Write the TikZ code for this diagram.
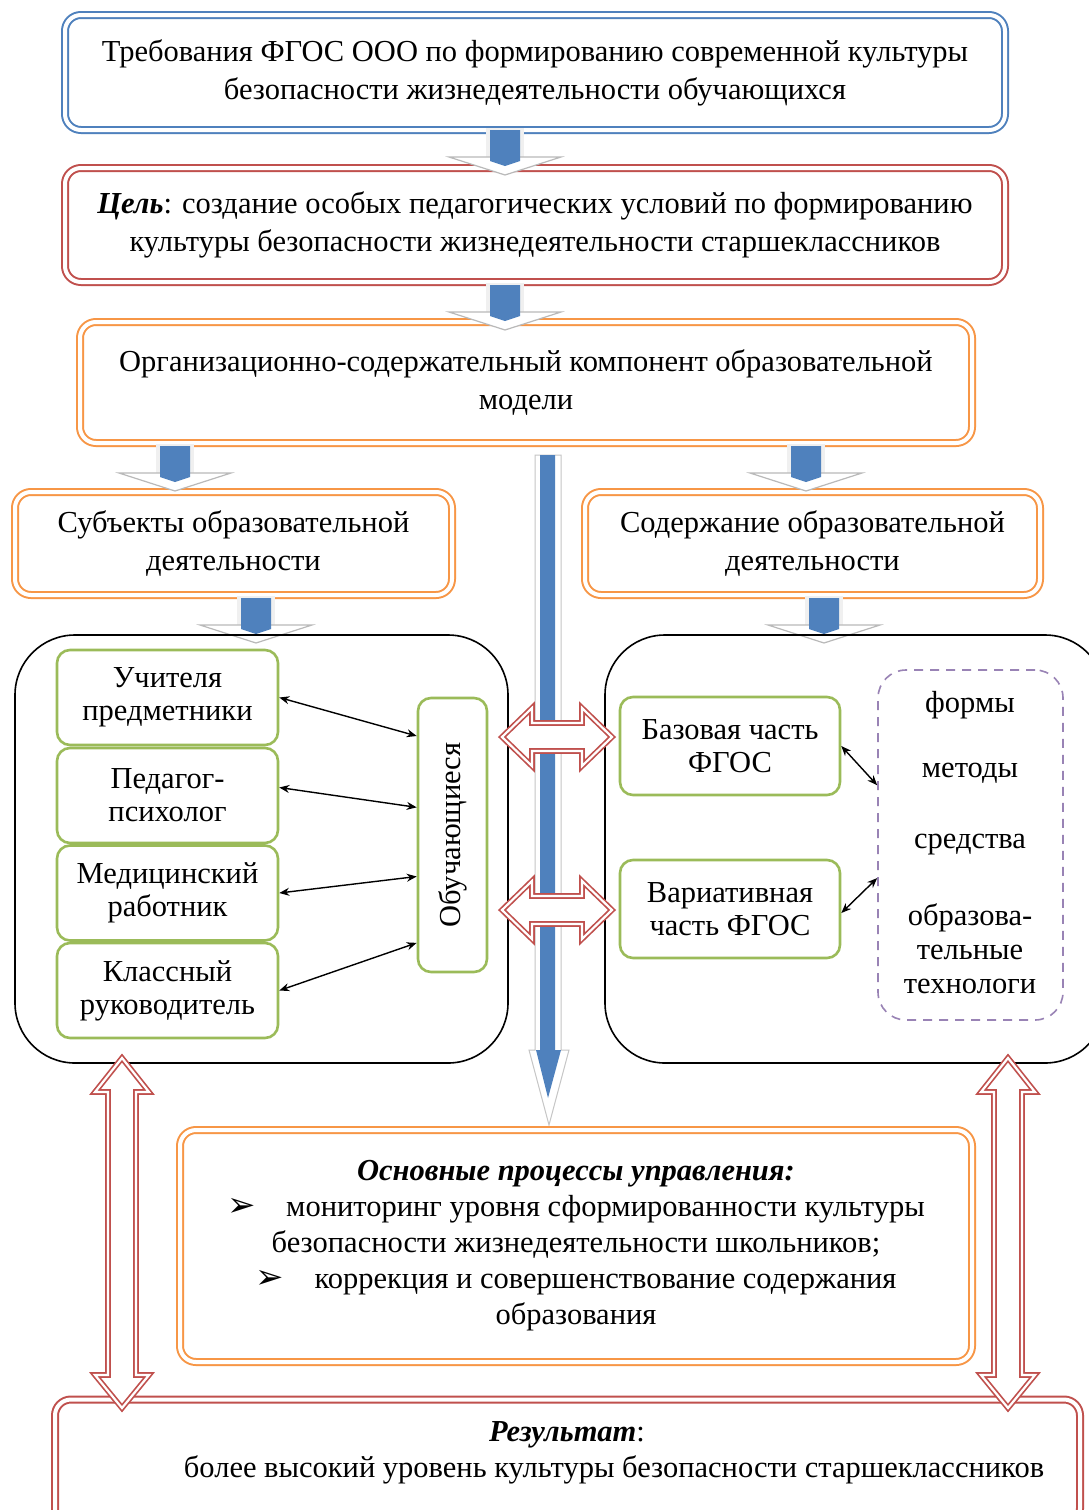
\documentclass[tikz,border=0pt]{standalone}
\usepackage{fontspec}
\setmainfont{Liberation Serif}
\newfontfamily\ser{Liberation Serif}
\newfontfamily\dvs{DejaVu Sans}
\usetikzlibrary{arrows.meta,calc}
\definecolor{cblue}{HTML}{4F81BD}
\definecolor{cred}{HTML}{C0504D}
\definecolor{corange}{HTML}{F79646}
\definecolor{cgreen}{HTML}{9BBB59}
\definecolor{cpurple}{HTML}{8064A2}
\tikzset{
  every node/.style={font=\ser\fontsize{30.5}{38}\selectfont, inner sep=0},
  dbox/.style={draw=#1, line width=2, double=white, double distance=4, rounded corners=16, fill=white, align=center},
  panel/.style={draw=black, line width=1.6, rounded corners=60},
  gbox/.style={draw=cgreen, line width=2.6, rounded corners=13, fill=white, align=center, font=\ser\fontsize{30.5}{33}\selectfont},
  redarr/.style={draw=cred, line width=1.7, double=white, double distance=2.2, fill=white, line join=miter},
  link/.style={{Stealth[length=10pt,width=8pt]}-{Stealth[length=10pt,width=8pt]}, line width=1.4, black},
  blkarrow/.pic={
    \fill[gray!12] (-19,0) rectangle (19,36);
    \filldraw[fill=white, draw=gray!55, line width=1.2] (-56,29) -- (56,29) -- (0,47) -- cycle;
    \fill[cblue] (-15,2) -- (15,2) -- (15,33) -- (0,38) -- (-15,33) -- cycle;
  }
}
\begin{document}
\begin{tikzpicture}[x=1pt,y=-1pt]
\useasboundingbox (0,0) rectangle (1089,1510);
\clip (0,0) rectangle (1089,1510);
\fill[white] (0,0) rectangle (1089,1510);

% top boxes
\node[dbox=cblue, minimum width=940, minimum height=115] (b1) at (535,72.5)
  {Требования ФГОС ООО по формированию современной культуры\\безопасности жизнедеятельности обучающихся};
\node[dbox=cred, minimum width=940, minimum height=114] (b2) at (535,225)
  {\textbf{\textit{Цель}}: создание особых педагогических условий по формированию\\культуры безопасности жизнедеятельности старшеклассников};
\node[dbox=corange, minimum width=892, minimum height=121] (b3) at (526,382.5)
  {Организационно-содержательный компонент образовательной\\модели};
\node[dbox=corange, minimum width=437, minimum height=103] (subj) at (233.5,543.5)
  {Субъекты образовательной\\деятельности};
\node[dbox=corange, minimum width=455, minimum height=103] (cont) at (812.5,543.5)
  {Содержание образовательной\\деятельности};

% block arrows
\pic at (505,128) {blkarrow};
\pic at (505,283) {blkarrow};
\pic at (175,444) {blkarrow};
\pic at (806,444) {blkarrow};
\pic at (256,596) {blkarrow};
\pic at (824,596) {blkarrow};

% panels
\node[panel, minimum width=493, minimum height=428] (lp) at (261.5,849) {};
\node[panel, minimum width=500, minimum height=428] (rp) at (855,849) {};

% central arrow
\filldraw[fill=white, draw=gray!45, line width=1] (535,455) -- (561,455) -- (561,1050) -- (569,1050) -- (549,1125) -- (529,1050) -- (535,1050) -- cycle;
\fill[cblue] (540,455) -- (555,455) -- (555,1050) -- (561,1050) -- (548,1098) -- (536,1050) -- (540,1050) -- cycle;

% left green boxes
\node[gbox, minimum width=221, minimum height=95] (u1) at (167.5,697.5) {Учителя\\предметники};
\node[gbox, minimum width=221, minimum height=95] (u2) at (167.5,795.5) {Педагог-\\психолог};
\node[gbox, minimum width=221, minimum height=95] (u3) at (167.5,893) {Медицинский\\работник};
\node[gbox, minimum width=221, minimum height=95] (u4) at (167.5,990.5) {Классный\\руководитель};
\node[gbox, minimum width=69, minimum height=274] (obu) at (452.5,835) {};
\node[rotate=90] (obut) at (obu.center) {Обучающиеся};

\draw[link] (u1.east) -- ($(obu.north west)!0.142!(obu.south west)$);
\draw[link] ([yshift=8]u2.east) -- ($(obu.north west)!0.40!(obu.south west)$);
\draw[link] (u3.east) -- ($(obu.north west)!0.65!(obu.south west)$);
\draw[link] (u4.east) -- ($(obu.north west)!0.89!(obu.south west)$);

% right side
\node[gbox, minimum width=220, minimum height=98] (bas) at (730,746) {Базовая часть\\ФГОС};
\node[gbox, minimum width=220, minimum height=98] (var) at (730,909) {Вариативная\\часть ФГОС};
\node[draw=cpurple!80, line width=1.6, dash pattern=on 9pt off 7pt, rounded corners=28, minimum width=185, minimum height=350] (fm) at (970.5,845) {};
\node (f1) at (970,705) {формы};
\node (f2) at (970,773) {методы};
\node (f3) at (970,845) {средства};
\node[align=center, font=\ser\fontsize{30.5}{34}\selectfont] (f4) at (970,949) {образова-\\тельные\\технологи};

\draw[link] (bas.east) -- ($(fm.north west)!0.33!(fm.south west)$);
\draw[link] ([yshift=-4]var.east) -- ($(fm.north west)!0.594!(fm.south west)$);

% red horizontal double arrows
\path[redarr] (502,737) -- (532,708) -- (532,723) -- (582,723) -- (582,708) -- (612,737) -- (582,766) -- (582,751) -- (532,751) -- (532,766) -- cycle;
\path[redarr] (502,910) -- (532,881) -- (532,896) -- (582,896) -- (582,881) -- (612,910) -- (582,939) -- (582,924) -- (532,924) -- (532,939) -- cycle;

% processes box
\node[dbox=corange, minimum width=792, minimum height=232, font=\ser\fontsize{30.5}{36}\selectfont] (proc) at (576,1246)
  {\textbf{\textit{Основные процессы управления:}}\\
   {\dvs\fontsize{34}{36}\selectfont ➢}\quad мониторинг уровня сформированности культуры\\
   безопасности жизнедеятельности школьников;\\
   {\dvs\fontsize{34}{36}\selectfont ➢}\quad коррекция и совершенствование содержания\\
   образования};

% result box
\node[dbox=cred, minimum width=1025, minimum height=125] (res) at (567.5,1462) {};
\node (r1) at (567,1435) {\textbf{\textit{Результат}}:};
\node (r2) at (614,1470) {более высокий уровень культуры безопасности старшеклассников};

% vertical red double arrows
\path[redarr] (122,1058) -- (149,1092) -- (136,1092) -- (136,1375) -- (149,1375) -- (122,1408) -- (95,1375) -- (108,1375) -- (108,1092) -- (95,1092) -- cycle;
\path[redarr] (1008,1058) -- (1035,1092) -- (1022,1092) -- (1022,1375) -- (1035,1375) -- (1008,1408) -- (981,1375) -- (994,1375) -- (994,1092) -- (981,1092) -- cycle;
\end{tikzpicture}
\end{document}
